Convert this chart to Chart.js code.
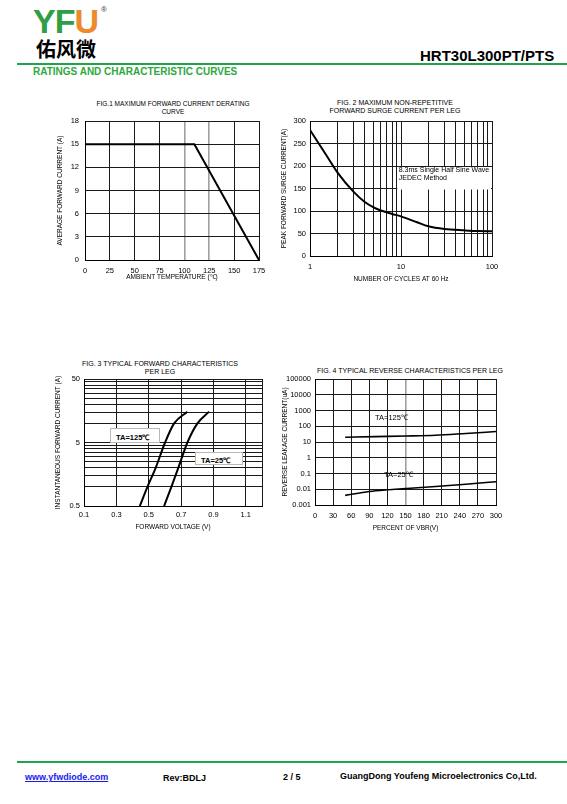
<!DOCTYPE html>
<html lang="en">
<head>
<meta charset="UTF-8">
<title>HRT30L300PT/PTS - Ratings and Characteristic Curves</title>
<script src="https://cdn.jsdelivr.net/npm/chart.js"></script>
<style>
  body { margin: 0; width: 567px; height: 804px; position: relative; overflow: hidden; background: #fff;
         font-family: "Liberation Sans", Arial, sans-serif; color: #000; }
  .abs { position: absolute; white-space: nowrap; }
  canvas { position: absolute; }
  .logo { left: 33px; top: 4px; font-size: 34px; font-weight: bold; line-height: 34px; letter-spacing: -1px; }
  .logo .g { color: #2f9e44; }
  .logo .o { color: #ec8a2c; }
  .reg { left: 101px; top: 5px; font-size: 8px; color: #333; }
  .cn { left: 36px; top: 38px; font-family: "Noto Sans CJK SC", sans-serif; font-size: 20px; font-weight: bold; line-height: 22px; }
  .part { left: 420px; top: 47px; font-size: 15px; font-weight: bold; }
  .rule { left: 17px; width: 550px; height: 2px; background: #1ea54b; }
  .section { left: 33px; top: 66px; font-size: 10px; font-weight: bold; color: #2ea83c; }
  .ftitle { font-size: 7px; line-height: 8px; text-align: center; width: 240px; }
  .tag { font-size: 7.5px; font-weight: bold; background: #fff; border: 1px solid #b8b8b8; box-sizing: border-box; padding: 3px 0 0 5px; }
  .tag4 { font-size: 7.5px; }
  .foot { top: 772px; font-size: 9px; font-weight: bold; }
  .foot a { color: #1a1aee; }
</style>
</head>
<body>
  <div class="abs logo"><span class="g">YF</span><span class="o">U</span></div>
  <div class="abs reg">®</div>
  <div class="abs cn">佑风微</div>
  <div class="abs part">HRT30L300PT/PTS</div>
  <div class="abs rule" style="top:63px"></div>
  <div class="abs section">RATINGS AND CHARACTERISTIC CURVES</div>

  <div class="abs ftitle" style="left:53px;top:100px;font-size:6.5px;line-height:7.5px">FIG.1 MAXIMUM FORWARD CURRENT DERATING<br>CURVE</div>
  <div class="abs ftitle" style="left:275px;top:99px">FIG. 2 MAXIMUM NON-REPETITIVE<br>FORWARD SURGE CURRENT PER LEG</div>
  <div class="abs ftitle" style="left:40px;top:360px">FIG. 3 TYPICAL FORWARD CHARACTERISTICS<br>PER LEG</div>
  <div class="abs ftitle" style="left:290px;top:367px">FIG. 4 TYPICAL REVERSE CHARACTERISTICS PER LEG</div>

  <canvas id="fig1" width="213" height="166" style="left:54px;top:115px;width:213px;height:166px"></canvas>
  <canvas id="fig2" width="222" height="168" style="left:278px;top:115px;width:222px;height:168px"></canvas>
  <canvas id="fig3" width="218" height="158" style="left:52px;top:373px;width:218px;height:158px"></canvas>
  <canvas id="fig4" width="225" height="159" style="left:279px;top:373px;width:225px;height:159px"></canvas>

  <div class="abs tag" style="left:110px;top:428px;width:50px;height:15px">TA=125℃</div>
  <div class="abs tag" style="left:195px;top:452px;width:48px;height:13px;padding-top:2px">TA=25℃</div>
  <div class="abs tag4" style="left:375px;top:412px">TA=125℃</div>
  <div class="abs tag4" style="left:384px;top:469px">TA=25℃</div>

  <div class="abs rule" style="top:761px"></div>
  <div class="abs foot" style="left:25px"><a href="#">www.yfwdiode.com</a></div>
  <div class="abs foot" style="left:163px;top:773px">Rev:BDLJ</div>
  <div class="abs foot" style="left:283px">2 / 5</div>
  <div class="abs foot" style="left:340px;top:771px">GuangDong Youfeng Microelectronics Co,Ltd.</div>

<script>
  // Fig.1 derating curve
  const fig1Temp = [0, 110, 175];
  const fig1Current = [15, 15, 0];
  const fig1XTicks = [0, 25, 50, 75, 100, 125, 150, 175];
  const fig1YTicks = [0, 3, 6, 9, 12, 15, 18];

  // Fig.2 surge current vs cycles
  const fig2Cycles = [1, 1.5, 2, 3, 4, 5, 6, 8, 10, 15, 20, 30, 50, 70, 100];
  const fig2Surge = [280, 225, 186, 143, 120, 108, 101, 93.5, 88, 75, 66, 60, 57, 55.5, 55];
  const fig2XTicks = [1, 2, 3, 4, 5, 6, 7, 8, 9, 10, 20, 30, 40, 50, 60, 70, 80, 90, 100];
  const fig2YTicks = [0, 50, 100, 150, 200, 250, 300];

  // Fig.3 forward characteristics
  const fig3Volt125 = [0.445, 0.492, 0.543, 0.601, 0.657, 0.739];
  const fig3Amp125 = [0.5, 1, 2, 5, 10, 15.3];
  const fig3Volt25 = [0.595, 0.640, 0.683, 0.739, 0.801, 0.873];
  const fig3Amp25 = [0.5, 1, 2, 5, 10, 15.3];
  const fig3XTicks = [0.1, 0.3, 0.5, 0.7, 0.9, 1.1, 1.2];
  const fig3XLabels = ['0.1', '0.3', '0.5', '0.7', '0.9', '1.1', ''];
  const fig3YTicks = [0.5, 1, 1.5, 2, 2.5, 3, 3.5, 4, 4.5, 5, 10, 15, 20, 25, 30, 35, 40, 45, 50];
  const fig3YLabels = [0.5, 5, 50];

  // Fig.4 reverse characteristics
  const fig4Pct = [50, 100, 150, 200, 250, 300];
  const fig4Leak125 = [20, 22, 24, 27, 35, 46];
  const fig4Pct25 = [50, 90, 120, 150, 200, 250, 300];
  const fig4Leak25 = [0.0041, 0.0072, 0.0092, 0.011, 0.015, 0.021, 0.030];
  const fig4XTicks = [0, 30, 60, 90, 120, 150, 180, 210, 240, 270, 300];
  const fig4YTicks = [0.001, 0.01, 0.1, 1, 10, 100, 1000, 10000, 100000];
  const fig4YLabels = ['0.001', '0.01', '0.1', '1', '10', '100', '1000', '10000', '100000'];

  const FONT = '"Liberation Sans", Arial, sans-serif';
  Chart.defaults.font.family = FONT;
  Chart.defaults.color = '#000';

  function pts(xs, ys) {
    return xs.map((x, i) => ({ x: x, y: ys[i] }));
  }

  function grid(grayAt) {
    const isGray = c => grayAt && c.tick && grayAt.includes(c.tick.value);
    return {
      drawTicks: false,
      color: c => isGray(c) ? '#a0a0a0' : '#1a1a1a',
      lineWidth: c => isGray(c) ? 1.6 : 1
    };
  }

  function useTicks(list) {
    return s => { s.ticks = list.map(v => ({ value: v })); };
  }

  // fixed axis size, and no extra room for edge labels so the plot box lands where we want it
  function fixSize(o) {
    return s => {
      if (o.pos === 'left') s.width = o.size; else s.height = o.size;
      s.paddingTop = 0; s.paddingBottom = 0; s.paddingLeft = 0; s.paddingRight = 0;
    };
  }

  function axis(o) {
    return {
      type: o.type || 'linear',
      position: o.pos,
      min: o.min,
      max: o.max,
      afterBuildTicks: useTicks(o.ticks),
      afterFit: fixSize(o),
      grid: grid(o.gray),
      border: { color: '#000', width: 1 },
      ticks: {
        autoSkip: false,
        maxRotation: 0,
        padding: o.pad,
        font: { size: 7.5 },
        callback: o.label
      },
      title: {
        display: true,
        text: o.title,
        font: { size: 6.5 },
        padding: o.tpad || 0
      }
    };
  }

  function line(data, width, smooth) {
    return {
      data: data,
      borderColor: '#000',
      borderWidth: width,
      pointRadius: 0,
      fill: false,
      tension: smooth ? 0.4 : 0,
      cubicInterpolationMode: smooth ? 'monotone' : 'default'
    };
  }

  function make(id, datasets, xs, ys, plugins) {
    return new Chart(document.getElementById(id), {
      type: 'line',
      data: { datasets: datasets },
      options: {
        responsive: false,
        animation: false,
        layout: { padding: { top: 6, right: 8, left: 0, bottom: 0 } },
        plugins: { legend: { display: false }, tooltip: { enabled: false } },
        scales: { x: xs, y: ys }
      },
      plugins: plugins || []
    });
  }

  make('fig1',
    [line(pts(fig1Temp, fig1Current), 2, false)],
    axis({ pos: 'bottom', min: 0, max: 175, ticks: fig1XTicks, size: 21, pad: 6,
           gray: [100, 125], title: 'AMBIENT TEMPERATURE (℃)', label: v => v }),
    axis({ pos: 'left', min: 0, max: 18, ticks: fig1YTicks, size: 31, pad: 6,
           title: 'AVERAGE FORWARD CURRENT (A)', tpad: 2, label: v => v }));

  // white box behind the note in fig.2, with its text
  const fig2Note = {
    id: 'fig2Note',
    beforeDatasetsDraw(chart) {
      const { ctx, scales: { x, y } } = chart;
      const left = x.getPixelForValue(9.1);
      const right = x.getPixelForValue(100) - 1;
      const top = y.getPixelForValue(200) + 1;
      const bottom = y.getPixelForValue(150) + 1;
      ctx.save();
      ctx.fillStyle = '#fff';
      ctx.fillRect(left, top, right - left, bottom - top);
      ctx.fillStyle = '#000';
      ctx.font = '7px ' + FONT;
      ctx.textBaseline = 'middle';
      ctx.fillText('8.3ms Single Half Sine Wave', left + 1.5, y.getPixelForValue(191));
      ctx.fillText('JEDEC Method', left + 1.5, y.getPixelForValue(173));
      ctx.restore();
    }
  };

  make('fig2',
    [line(pts(fig2Cycles, fig2Surge), 2, true)],
    axis({ type: 'logarithmic', pos: 'bottom', min: 1, max: 100, ticks: fig2XTicks, size: 27, pad: 6,
           title: 'NUMBER OF CYCLES AT 60 Hz',
           label: v => [1, 10, 100].includes(v) ? String(v) : '' }),
    axis({ pos: 'left', min: 0, max: 300, ticks: fig2YTicks, size: 32, pad: 4,
           title: 'PEAK FORWARD SURGE CURRENT(A)', tpad: 2, label: v => v }),
    [fig2Note]);

  make('fig3',
    [line(pts(fig3Volt125, fig3Amp125), 2, true), line(pts(fig3Volt25, fig3Amp25), 2, true)],
    axis({ pos: 'bottom', min: 0.1, max: 1.2, ticks: fig3XTicks, size: 25, pad: 4,
           title: 'FORWARD VOLTAGE (V)',
           label: (v, i) => fig3XLabels[i] }),
    axis({ type: 'logarithmic', pos: 'left', min: 0.5, max: 50, ticks: fig3YTicks, size: 32, pad: 4,
           title: 'INSTANTANEOUS FORWARD CURRENT (A)', tpad: 2,
           label: v => fig3YLabels.includes(v) ? String(v) : '' }));

  make('fig4',
    [line(pts(fig4Pct, fig4Leak125), 1.6, true), line(pts(fig4Pct25, fig4Leak25), 1.6, true)],
    axis({ pos: 'bottom', min: 0, max: 300, ticks: fig4XTicks, size: 27, pad: 6,
           gray: [150], title: 'PERCENT OF VBR(V)', label: v => v }),
    axis({ type: 'logarithmic', pos: 'left', min: 0.001, max: 100000, ticks: fig4YTicks, size: 36, pad: 4,
           title: 'REVERSE LEAKAGE CURRENT(uA)', tpad: 2,
           label: (v, i) => fig4YLabels[i] }));
</script>
</body>
</html>
